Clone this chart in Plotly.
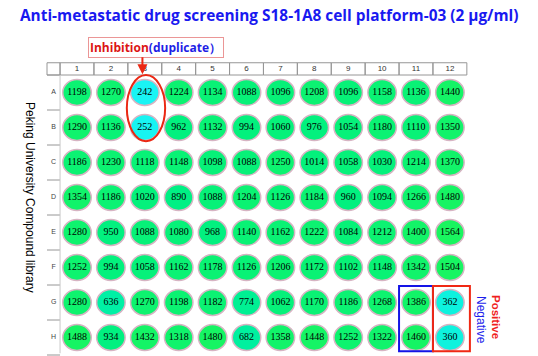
import plotly.graph_objects as go
from plotly.colors import sample_colorscale

rows = ["A", "B", "C", "D", "E", "F", "G", "H"]
cols = [str(c) for c in range(1, 13)]

values_A = [1198, 1270, 242, 1224, 1134, 1088, 1096, 1208, 1096, 1158, 1136, 1440]
values_B = [1290, 1136, 252, 962, 1132, 994, 1060, 976, 1054, 1180, 1110, 1350]
values_C = [1186, 1230, 1118, 1148, 1098, 1088, 1250, 1014, 1058, 1030, 1214, 1370]
values_D = [1354, 1186, 1020, 890, 1088, 1204, 1126, 1184, 960, 1094, 1266, 1480]
values_E = [1280, 950, 1088, 1080, 968, 1140, 1162, 1222, 1084, 1212, 1400, 1564]
values_F = [1252, 994, 1058, 1162, 1178, 1126, 1206, 1172, 1102, 1148, 1342, 1504]
values_G = [1280, 636, 1270, 1198, 1182, 774, 1062, 1170, 1186, 1268, 1386, 362]
values_H = [1488, 934, 1432, 1318, 1480, 682, 1358, 1448, 1252, 1322, 1460, 360]
plate = [values_A, values_B, values_C, values_D, values_E, values_F, values_G, values_H]

title_text = "Anti-metastatic drug screening S18-1A8 cell platform-03 (2 \u00b5g/ml)"
ytitle_text = "Peking University Compound library"

vmin, vmax = 240, 1564
cscale = [[0.0, "rgb(25,244,244)"], [0.12, "rgb(10,242,215)"], [0.3, "rgb(0,240,165)"],
          [0.5, "rgb(0,240,130)"], [1.0, "rgb(25,245,95)"]]

# pixel-calibrated axis ranges
px_x, px_y = 33.9, 35.0
x0 = 1 - 77 / px_x
xr = [x0, x0 + 538 / px_x]
y0 = 0 - 92.5 / px_y
yr = [y0 + 356 / px_y, y0]

fig = go.Figure()
shapes = []
xs, ys, ts = [], [], []
for r, vals in enumerate(plate):
    for c, v in enumerate(vals):
        cx = c + 1
        t = (v - vmin) / (vmax - vmin)
        col = sample_colorscale(cscale, [max(0, min(1, t))])[0]
        shapes.append(dict(type="circle", xref="x", yref="y",
                           x0=cx - 0.42, x1=cx + 0.42, y0=r - 0.37, y1=r + 0.37,
                           fillcolor=col, line=dict(color="rgb(215,180,195)", width=1.5),
                           layer="below"))
        xs.append(cx); ys.append(r); ts.append(str(v))

grid = "rgb(150,150,150)"
# header row
hy0, hy1 = -0.85, -0.5
shapes.append(dict(type="rect", xref="x", yref="y", x0=0.115, x1=0.5, y0=hy0, y1=hy1,
                   line=dict(color=grid, width=1)))
for c in range(12):
    shapes.append(dict(type="rect", xref="x", yref="y", x0=c + 0.5, x1=c + 1.5, y0=hy0, y1=hy1,
                       line=dict(color=grid, width=1)))
# row label column lines
for r in range(9):
    shapes.append(dict(type="line", xref="x", yref="y", x0=0.115, x1=0.5, y0=r - 0.5, y1=r - 0.5,
                       line=dict(color=grid, width=1)))
shapes.append(dict(type="line", xref="x", yref="y", x0=0.5, x1=0.5, y0=-0.5, y1=7.45,
                   line=dict(color="rgb(200,200,200)", width=1)))

# highlight marks
shapes.append(dict(type="circle", xref="x", yref="y", x0=2.47, x1=3.6, y0=-0.5, y1=1.39,
                   line=dict(color="rgb(235,40,20)", width=2)))
shapes.append(dict(type="rect", xref="x", yref="y", x0=10.5, x1=11.5, y0=5.53, y1=7.39,
                   line=dict(color="rgb(20,20,230)", width=2)))
shapes.append(dict(type="rect", xref="x", yref="y", x0=11.5, x1=12.59, y0=5.53, y1=7.39,
                   line=dict(color="rgb(240,40,20)", width=2)))

fig.add_trace(go.Scatter(x=xs, y=ys, text=ts, mode="text",
                         textfont=dict(family="Liberation Serif", size=10, color="black"),
                         hoverinfo="skip", showlegend=False))
fig.add_trace(go.Scatter(x=list(range(1, 13)), y=[-0.675] * 12, text=cols, mode="text",
                         textfont=dict(family="Liberation Sans", size=8, color="#333"),
                         hoverinfo="skip", showlegend=False))
fig.add_trace(go.Scatter(x=[0.31] * 8, y=list(range(8)), text=rows, mode="text",
                         textfont=dict(family="Liberation Sans", size=7, color="#444"),
                         hoverinfo="skip", showlegend=False))

fig.update_layout(shapes=shapes)

fig.add_annotation(text="<b>" + title_text + "</b>", xref="paper", yref="paper",
                   x=0.5, y=1 - 15 / 356, xanchor="center", yanchor="middle", showarrow=False,
                   font=dict(family="Open Sans", size=15.4, color="rgb(25,25,240)"))
fig.add_annotation(text=ytitle_text, xref="paper", yref="paper",
                   x=30 / 538, y=1 - 197 / 356, textangle=90, showarrow=False,
                   xanchor="center", yanchor="middle",
                   font=dict(family="Liberation Sans", size=12, color="black"))
fig.add_annotation(text="<b><span style='color:rgb(220,20,20)'>Inhibition</span>"
                        "<span style='color:rgb(30,30,230)'>(duplicate\uff09</span></b>",
                   xref="paper", yref="paper", x=88 / 538, y=1 - 37 / 356,
                   xanchor="left", yanchor="top", showarrow=False,
                   width=132, height=17, align="left", borderpad=1,
                   bordercolor="rgb(235,150,150)", borderwidth=1, bgcolor="white",
                   font=dict(family="Open Sans", size=12))
fig.add_annotation(x=2.93, y=-0.52, ax=2.93, ay=-1.05, xref="x", yref="y", axref="x", ayref="y",
                   text="", showarrow=True, arrowhead=2, arrowsize=1, arrowwidth=2,
                   arrowcolor="rgb(235,40,20)")
fig.add_annotation(text="<b>Positive</b>", xref="paper", yref="paper",
                   x=496 / 538, y=1 - 317 / 356, textangle=90, showarrow=False,
                   xanchor="center", yanchor="middle",
                   font=dict(family="Liberation Sans", size=11.5, color="rgb(240,30,30)"))
fig.add_annotation(text="Negative", xref="paper", yref="paper",
                   x=481 / 538, y=1 - 320 / 356, textangle=90, showarrow=False,
                   xanchor="center", yanchor="middle",
                   font=dict(family="Liberation Sans", size=12, color="rgb(30,30,235)"))

fig.update_layout(width=538, height=356, margin=dict(l=0, r=0, t=0, b=0),
                  paper_bgcolor="white", plot_bgcolor="white",
                  xaxis=dict(range=xr, visible=False, fixedrange=True),
                  yaxis=dict(range=yr, visible=False, fixedrange=True),
                  showlegend=False)
fig.write_html("out.html", config={"displayModeBar": False},
               post_script="document.body.style.margin='0';document.body.style.padding='0';")
